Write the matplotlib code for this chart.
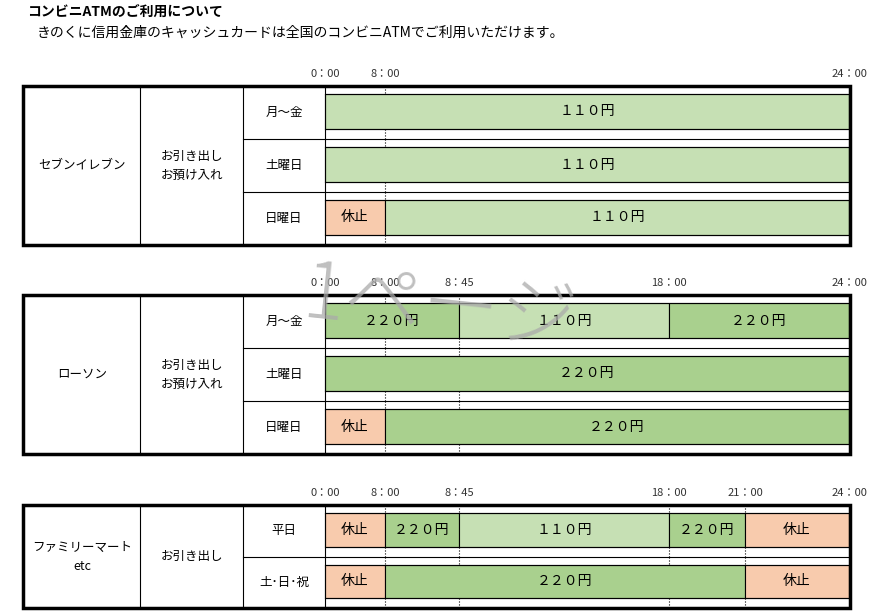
import matplotlib
matplotlib.use('Agg')
import matplotlib.pyplot as plt
from matplotlib.patches import Rectangle

plt.rcParams['font.family'] = 'Noto Sans CJK JP'

# time labels -> x pixel of the timeline (scale in the original is not linear)
time_labels = ["0：00", "8：00", "8：45", "18：00", "21：00", "24：00"]
time_x = [325, 385, 459, 669, 745, 849]

stores = ["セブンイレブン", "ローソン", "ファミリーマート\netc"]
services = ["お引き出し\nお預け入れ", "お引き出し\nお預け入れ", "お引き出し"]
days = [["月～金", "土曜日", "日曜日"],
        ["月～金", "土曜日", "日曜日"],
        ["平日", "土･日･祝"]]
# segments per row: (start label idx, end label idx, text, kind)
seven_segs = [[(0, 5, "１１０円", "low")],
              [(0, 5, "１１０円", "low")],
              [(0, 1, "休止", "off"), (1, 5, "１１０円", "low")]]
lawson_segs = [[(0, 2, "２２０円", "high"), (2, 3, "１１０円", "low"), (3, 5, "２２０円", "high")],
               [(0, 5, "２２０円", "high")],
               [(0, 1, "休止", "off"), (1, 5, "２２０円", "high")]]
famima_segs = [[(0, 1, "休止", "off"), (1, 2, "２２０円", "high"), (2, 3, "１１０円", "low"),
                (3, 4, "２２０円", "high"), (4, 5, "休止", "off")],
               [(0, 1, "休止", "off"), (1, 4, "２２０円", "high"), (4, 5, "休止", "off")]]
segs = [seven_segs, lawson_segs, famima_segs]
shown_ticks = [[0, 1, 5], [0, 1, 2, 3, 5], [0, 1, 2, 3, 4, 5]]
dotted = [[1], [1, 2], [1, 2, 3, 4]]

colors = {"low": "#c6e0b4", "high": "#a9d08e", "off": "#f8cbad"}

tables_top = [86, 295, 505]
row_h = [53, 53, 51.5]

fig = plt.figure(figsize=(8.8, 6.15), dpi=100)
ax = fig.add_axes([0, 0, 1, 1])
ax.set_xlim(0, 880)
ax.set_ylim(615, 0)
ax.axis('off')

ax.text(27, 12, "コンビニATMのご利用について", fontsize=10, fontweight='bold', va='center')
ax.text(37, 33, "きのくに信用金庫のキャッシュカードは全国のコンビニATMでご利用いただけます。", fontsize=10, va='center')

for t in range(3):
    top = tables_top[t]
    rh = row_h[t]
    n = len(days[t])
    bottom = top + rh * n
    for i in shown_ticks[t]:
        ax.text(time_x[i], top - 12, time_labels[i], fontsize=8, ha='center', va='center', color='#333333')
    for r in range(n):
        y0 = top + r * rh
        ax.plot([325, 850], [y0 + 8, y0 + 8], color='black', lw=0.8)
        ax.plot([325, 850], [y0 + rh - 10, y0 + rh - 10], color='black', lw=0.8)
        for (a, b, txt, kind) in segs[t][r]:
            x0, x1 = time_x[a], time_x[b]
            ax.add_patch(Rectangle((x0, y0 + 8), x1 - x0, rh - 18, facecolor=colors[kind],
                                   edgecolor='black', lw=0.8))
            ax.text((x0 + x1) / 2, y0 + 8 + (rh - 18) / 2, txt, fontsize=10, ha='center', va='center')
        ax.text(284, y0 + rh / 2, days[t][r], fontsize=9, ha='center', va='center')
        if r > 0:
            ax.plot([243, 850], [y0, y0], color='black', lw=0.8)
        for d in dotted[t]:
            ax.plot([time_x[d]] * 2, [y0, y0 + 8], color='black', lw=0.8, ls=':')
            ax.plot([time_x[d]] * 2, [y0 + rh - 10, y0 + rh], color='black', lw=0.8, ls=':')
    for x in [140, 243, 325]:
        ax.plot([x, x], [top, bottom], color='black', lw=0.8)
    ax.add_patch(Rectangle((23, top), 827, bottom - top, facecolor='none', edgecolor='black', lw=2.5))
    ax.text(82, (top + bottom) / 2, stores[t], fontsize=9, ha='center', va='center', linespacing=1.6)
    ax.text(192, (top + bottom) / 2, services[t], fontsize=9, ha='center', va='center', linespacing=1.6)

ax.text(440, 310, "1ページ", fontsize=56, fontweight='light', color='#aaaaaa', alpha=0.75,
        ha='center', va='center', rotation=-6)

fig.savefig("out.png", dpi=100)
